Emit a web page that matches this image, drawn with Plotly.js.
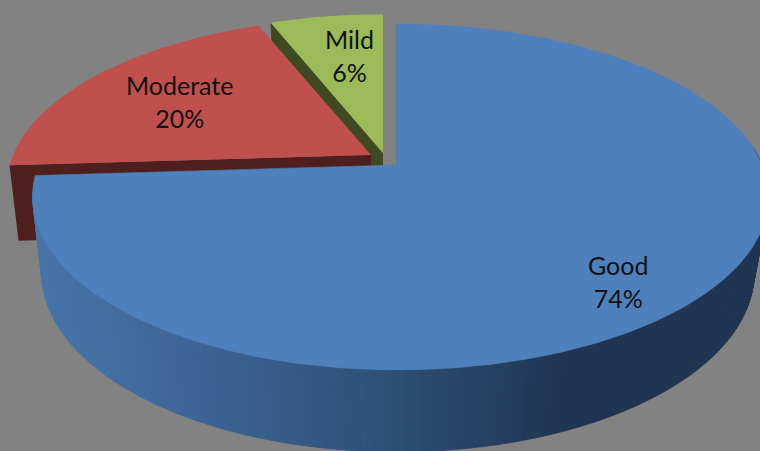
<!DOCTYPE html>
<html>
<head>
<meta charset="utf-8">
<script src="https://cdn.plot.ly/plotly-3.0.1.min.js"></script>
<style>html,body{margin:0;padding:0;background:#828282;overflow:hidden}</style>
</head>
<body>
<div id="chart" style="width:760px;height:451px"></div>
<script>
// Severity shares, clockwise from twelve o'clock
const categories = ['Good', 'Moderate', 'Mild'];
const shares = [74, 20, 6];

// Slice colours: top face and cut face
const topColors = ['#4e80bc', '#c0504d', '#9bbb59'];
const cutColors = ['#2a4668', '#4f1f1e', '#3f4a22'];

// Where each slice's tip sits once pulled out of the pie
const tipX = [397, 371, 383];
const tipY = [165, 155, 153];
const reachY = [1, 0.977, 0.985];

// Label centres
const labelX = [618, 179, 349];
const labelY = [281, 101, 55];

// Perspective of the tilted disc
const BG = '#828282';
const K = 0.185, RX = 358, RY = 167;
const DEPTH = 75;
const LOWER = {sl: 0.975, sr: 0.98, sy: 1.034, dy: DEPTH};
const UPPER = {sl: 1, sr: 1.02, sy: 1, dy: 0};

// Shade of the blue wall, by horizontal screen position
const wallStops = [[40, [72, 118, 170]], [200, [59, 101, 150]], [400, [45, 78, 117]],
                   [560, [31, 53, 82]], [760, [31, 53, 82]]];

function project(i, deg, face) {
  const t = deg * Math.PI / 180, u = Math.sin(t), v = Math.cos(t), w = 1 + K * v;
  const sx = u > 0 ? face.sr : face.sl;
  return [tipX[i] + RX * sx * u / w, tipY[i] + face.dy - RY * reachY[i] * face.sy * v / w];
}

function wallColor(x) {
  for (let s = 1; s < wallStops.length; s++) {
    const [x0, c0] = wallStops[s - 1], [x1, c1] = wallStops[s];
    if (x <= x1) {
      const f = Math.max(0, (x - x0) / (x1 - x0));
      return 'rgb(' + c0.map((c, n) => Math.round(c + (c1[n] - c) * f)).join(',') + ')';
    }
  }
  return 'rgb(31,53,82)';
}

function poly(points, color, lineWidth) {
  return {
    type: 'scatter', mode: 'lines', hoverinfo: 'skip', showlegend: false,
    x: points.map(p => p[0]), y: points.map(p => p[1]),
    fill: 'toself', fillcolor: color,
    line: {color: color, width: lineWidth === undefined ? 0.5 : lineWidth}
  };
}

// Angular span of each slice, in degrees
const spans = [];
let running = 0;
const total = shares.reduce((a, b) => a + b, 0);
shares.forEach(s => { spans.push([running, running + s / total * 360]); running += s / total * 360; });

function topFace(i, lineWidth) {
  const [a, b] = spans[i], pts = [[tipX[i], tipY[i]]];
  for (let d = a; d < b; d += 1) pts.push(project(i, d, UPPER));
  pts.push(project(i, b, UPPER));
  pts.push([tipX[i], tipY[i]]);
  return poly(pts, topColors[i], lineWidth || 0);
}

// Flat face exposed along the slice's cut edge
function cutFace(i, deg) {
  return poly([[tipX[i], tipY[i]], project(i, deg, UPPER), project(i, deg, LOWER),
               [tipX[i], tipY[i] + DEPTH], [tipX[i], tipY[i]]], cutColors[i], 0);
}

const traces = [];

// Back to front: Mild, Moderate, then the large Good slice
traces.push(cutFace(2, spans[2][0]), topFace(2));
traces.push(cutFace(1, spans[1][0]), topFace(1));

// Curved wall of the Good slice, one narrow band per step
const wallStep = 1;
for (let d = 84; d < spans[0][1]; d += wallStep) {
  const e = Math.min(d + wallStep, spans[0][1]);
  const a0 = project(0, d, UPPER), a1 = project(0, e, UPPER);
  const b0 = project(0, d, LOWER), b1 = project(0, e, LOWER);
  traces.push(poly([a0, a1, b1, b0, a0], wallColor((b0[0] + b1[0]) / 2), 0.8));
}
traces.push(topFace(0, 0.6));

// Thin shaded edge along the vertical cut of the Good slice
const rimTop = project(0, 0, UPPER);
traces.push({
  type: 'scatter', mode: 'lines', hoverinfo: 'skip', showlegend: false,
  x: [rimTop[0] - 0.5, tipX[0] - 0.5], y: [rimTop[1], tipY[0]],
  line: {color: '#5f7893', width: 1}
});

const annotations = categories.map((c, i) => ({
  xref: 'x', yref: 'y', x: labelX[i], y: labelY[i], xanchor: 'center', yanchor: 'middle',
  showarrow: false, align: 'center',
  text: c + '<br>' + shares[i] + '%',
  font: {family: 'Lato, "Open Sans", sans-serif', size: 25, color: '#111111'}
}));

const layout = {
  width: 760, height: 451, autosize: false,
  margin: {l: 0, r: 0, t: 0, b: 0},
  paper_bgcolor: BG, plot_bgcolor: BG, showlegend: false,
  xaxis: {range: [0, 760], visible: false, fixedrange: true},
  yaxis: {range: [451, 0], visible: false, fixedrange: true},
  annotations: annotations
};

Plotly.newPlot('chart', traces, layout, {displayModeBar: false, staticPlot: true});
</script>
</body>
</html>
